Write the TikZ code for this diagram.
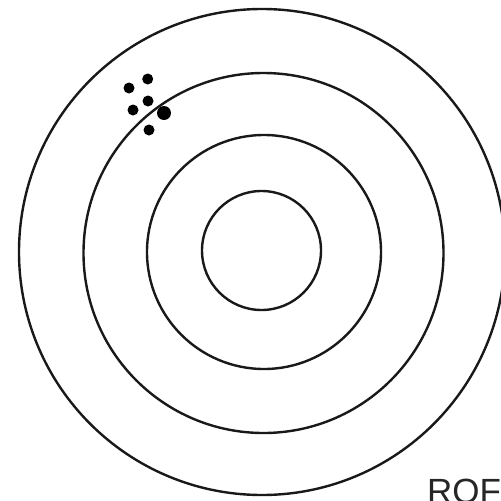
\documentclass[tikz,border=0pt]{standalone}
\usepackage{fontspec}
\setmainfont{Liberation Sans}
\begin{document}
\begin{tikzpicture}[x=1pt,y=-1pt,
  ring/.style={draw=black!90,line width=2.4pt},
  hit/.style={circle,fill=black,inner sep=0pt,minimum size=11pt},
  lbl/.style={anchor=base west,inner sep=0pt,font=\fontsize{35}{40}\selectfont,text=black!85}]
\useasboundingbox (0,0) rectangle (501,501);
\clip (0,0) rectangle (501,501);
\coordinate (c) at (262,252);
\draw[ring] (c) circle[radius=243];
\draw[ring] (263.5,253) circle[radius=180];
\draw[ring] (264,252) circle[radius=117];
\draw[ring] (261.5,250.5) circle[radius=59.5];
\node[hit] (h1) at (147.7,79) {};
\node[hit] (h2) at (129,88) {};
\node[hit] (h3) at (148,101) {};
\node[hit] (h4) at (133,110) {};
\node[hit,minimum size=14pt] (h5) at (164,113) {};
\node[hit] (h6) at (149,130) {};
\node[lbl] (t) at (427,503) {ROF};
\end{tikzpicture}
\end{document}
